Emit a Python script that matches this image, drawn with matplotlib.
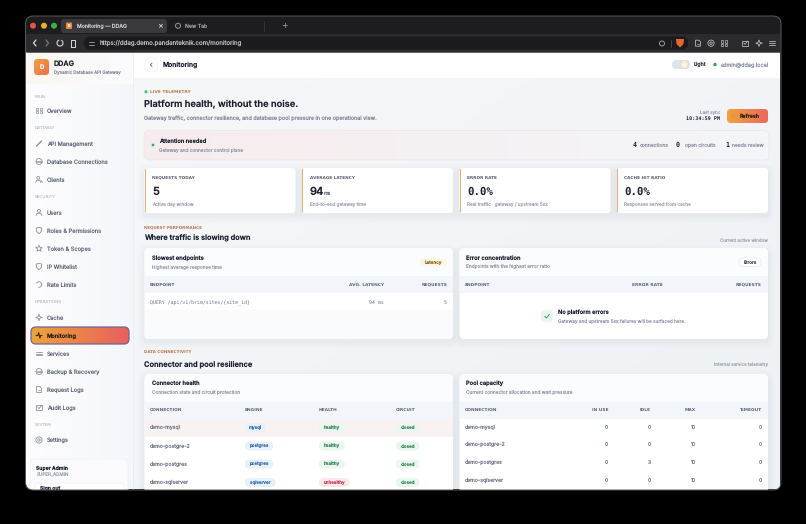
import numpy as np
import matplotlib
matplotlib.use("Agg")
import matplotlib.pyplot as plt
from matplotlib.patches import FancyBboxPatch, Circle, Rectangle, Polygon
from matplotlib.colors import LinearSegmentedColormap

plt.rcParams["text.hinting"] = "no_hinting"
plt.rcParams["text.hinting_factor"] = 8

# ---------- content ----------
tab_titles = ["Monitoring — DDAG", "New Tab"]
page_url = "https://ddag.demo.pandanteknik.com/monitoring"
nav_sections = ["MAIN", "GATEWAY", "SECURITY", "OPERATIONS", "SYSTEM"]
nav_items = [["Overview"],
             ["API Management", "Database Connections", "Clients"],
             ["Users", "Roles & Permissions", "Token & Scopes", "IP Whitelist", "Rate Limits"],
             ["Cache", "Monitoring", "Services", "Backup & Recovery", "Request Logs", "Audit Logs"],
             ["Settings"]]
kpi_labels = ["REQUESTS TODAY", "AVERAGE LATENCY", "ERROR RATE", "CACHE HIT RATIO"]
kpi_values = ["5", "94", "0.0%", "0.0%"]
kpi_captions = ["Active day window", "End-to-end gateway time",
                "Real traffic · gateway / upstream 5xx", "Responses served from cache"]
attention_counts = ["4", "0", "1"]
attention_names = ["connections", "open circuits", "needs review"]
slow_row = ["QUERY /api/v1/brim/sites/{site_id}", "94 ms", "5"]
connections = ["demo-mysql", "demo-postgre-2", "demo-postgres", "demo-sqlserver"]
engines = ["mysql", "postgres", "postgres", "sqlserver"]
health = ["healthy", "healthy", "healthy", "unhealthy"]
circuit = ["closed", "closed", "closed", "closed"]
pool_in_use = [0, 0, 0, 0]
pool_idle = [0, 0, 3, 0]
pool_max = [10, 10, 10, 10]
pool_timeout = [0, 0, 0, 0]

SANS = "Inter"
MONO = "DejaVu Sans Mono"
CAPS = "DejaVu Sans"
INK = "#1f2533"
MUTED = "#8a92a0"
BODY = "#5d6675"
ACCENT = "#b9794a"

fig = plt.figure(figsize=(8.06, 5.24), dpi=100, facecolor="#000000")
ax = fig.add_axes([0, 0, 1, 1])
ax.set_xlim(0, 806)
ax.set_ylim(524, 0)
ax.axis("off")
own_clip = []
z = [1]


def nz():
    z[0] += 1
    return z[0]


def rbox(x0, y0, x1, y1, r=3, fc="white", ec="none", lw=0, alpha=None):
    p = FancyBboxPatch((x0 + r, y0 + r), x1 - x0 - 2 * r, y1 - y0 - 2 * r,
                       boxstyle=f"round,pad={r},rounding_size={r}",
                       fc=fc, ec=ec, lw=lw, alpha=alpha, zorder=nz())
    ax.add_patch(p)
    return p


def rect(x0, y0, x1, y1, fc):
    p = Rectangle((x0, y0), x1 - x0, y1 - y0, fc=fc, ec="none", zorder=nz())
    ax.add_patch(p)
    return p


def grad(x0, y0, x1, y1, c0, c1, r=0, diag=False):
    cm = LinearSegmentedColormap.from_list("g", [c0, c1])
    n = 64
    xx = np.linspace(0, 1, n)
    yy = np.linspace(0, 1, n)
    X, Y = np.meshgrid(xx, yy)
    data = (X + Y) / 2 if diag else X
    im = ax.imshow(data, cmap=cm, extent=(x0, x1, y1, y0), aspect="auto",
                   interpolation="bilinear", zorder=nz())
    if r:
        p = FancyBboxPatch((x0 + r, y0 + r), x1 - x0 - 2 * r, y1 - y0 - 2 * r,
                           boxstyle=f"round,pad={r},rounding_size={r}",
                           fc="none", ec="none", transform=ax.transData)
        ax.add_patch(p)
        im.set_clip_path(p)
        own_clip.append(im)
    ax.set_xlim(0, 806)
    ax.set_ylim(524, 0)
    return im


def shadow(x0, y0, x1, y1, r=5):
    for d, a in ((7, .008), (5, .01), (3, .012), (1.5, .014)):
        rbox(x0 - d, y0 - d + 3, x1 + d, y1 + d + 3, r + d, fc="#3a4a66", alpha=a)


def T(x, y, s, px=6, weight="normal", color=BODY, ha="left", family=SANS, alpha=None):
    if weight == "bold" and family == SANS:
        weight = 600
    return ax.text(x, y + 0.34 * px, s, fontsize=px * 0.72, fontweight=weight, color=color,
                   ha=ha, va="baseline", family=family, zorder=nz(), alpha=alpha)


def L(xs, ys, color="#6d7482", lw=0.6):
    ax.plot(xs, ys, color=color, lw=lw, zorder=nz(), solid_capstyle="round")


def ring(x, y, r, color="#6d7482", lw=0.6, fc="none"):
    ax.add_patch(Circle((x, y), r, fc=fc, ec=color, lw=lw, zorder=nz()))


def icon(kind, x, y, c="#747b89"):
    if kind == "grid":
        for dx in (-1.7, 1.7):
            for dy in (-1.7, 1.7):
                ax.add_patch(Rectangle((x + dx - 1.2, y + dy - 1.2), 2.4, 2.4, fc="none",
                                       ec=c, lw=.5, zorder=nz()))
    elif kind == "link":
        L([x - 2.5, x + 2.5], [y + 2.5, y - 2.5], c, 1.0)
    elif kind == "db":
        ring(x, y, 3, c)
        L([x - 3, x + 3], [y - .8, y - .8], c, .5)
        L([x - 3, x + 3], [y + .8, y + .8], c, .5)
    elif kind == "people":
        ring(x - .8, y - 1.6, 1.4, c)
        L([x - 3.2, x - 2.4, x + .8, x + 1.6], [y + 3, y + .8, y + .8, y + 3], c)
        L([x + 2, x + 3.4], [y + .8, y + 3], c)
    elif kind == "user":
        ring(x, y - 1.6, 1.5, c)
        L([x - 3, x - 1.8, x + 1.8, x + 3], [y + 3, y + .8, y + .8, y + 3], c)
    elif kind == "shield":
        ax.add_patch(Polygon([(x - 2.8, y - 2.4), (x, y - 3.2), (x + 2.8, y - 2.4),
                              (x + 2.4, y + 1), (x, y + 3.2), (x - 2.4, y + 1)],
                             fc="none", ec=c, lw=.6, zorder=nz()))
    elif kind == "star":
        a = np.deg2rad(np.arange(-90, 270, 36))
        rr = np.where(np.arange(10) % 2 == 0, 3.4, 1.5)
        ax.add_patch(Polygon(np.c_[x + rr * np.cos(a), y + rr * np.sin(a)], fc="none", ec=c,
                             lw=.6, zorder=nz()))
    elif kind == "gauge":
        t = np.deg2rad(np.linspace(-150, 100, 24))
        L(x + 2.8 * np.cos(t), y + 2.8 * np.sin(t), c)
    elif kind == "bolt":
        a = np.deg2rad(np.arange(-90, 270, 45))
        rr = np.where(np.arange(8) % 2 == 0, 3.3, 1.2)
        ax.add_patch(Polygon(np.c_[x + rr * np.cos(a), y + rr * np.sin(a)], fc="none", ec=c,
                             lw=.6, zorder=nz()))
    elif kind == "pulse":
        L([x - 3, x - 1.2, x - .3, x + .9, x + 1.6, x + 3],
          [y, y, y - 2.8, y + 2.6, y, y], c, .8)
    elif kind == "lines":
        for dy in (-1.8, 0, 1.8):
            L([x - 2.8, x + 2.8], [y + dy, y + dy], c, .6)
    elif kind == "doc":
        ax.add_patch(Polygon([(x - 2.4, y - 3), (x + 1, y - 3), (x + 2.4, y - 1.4),
                              (x + 2.4, y + 3), (x - 2.4, y + 3)], fc="none", ec=c, lw=.6,
                             zorder=nz()))
        L([x - 1, x + 1], [y + .8, y + .8], c, .5)
    elif kind == "check":
        ax.add_patch(Rectangle((x - 2.8, y - 2.6), 5.4, 5.4, fc="none", ec=c, lw=.6, zorder=nz()))
        L([x - 1.2, x, x + 2.8], [y, y + 1.1, y - 2.2], c, .6)
    elif kind == "gear":
        ring(x, y, 3.1, c)
        ring(x, y, 1.2, c)


# ---------- browser chrome ----------
window = rbox(25.5, 16, 781, 490, 8, fc="#1d1d20")
rect(26, 34, 780, 52, "#2b2b2e")
for x, c in zip((33, 44, 54), ("#e5534b", "#e9b32a", "#35b34a")):
    ax.add_patch(Circle((x, 25.7), 3, fc=c, ec="none", zorder=nz()))
rbox(61, 19, 167, 33, 3, fc="#3a3a3e")
rbox(66, 22.5, 72, 29, 1, fc="#e88a35")
T(69, 25.8, "D", 3.5, "bold", "white", "center")
T(77, 25.8, tab_titles[0], 5.25, "normal", "#c9c9cc")
T(160, 25.8, "×", 7, "bold", "#d6d6d8", "center", "DejaVu Sans")
ring(178, 25.8, 2.5, "#8c8c90", .8)
T(185, 25.8, tab_titles[1], 5.25, "normal", "#97979b")
L([264, 264], [21, 31], "#3d3d41", .5)
T(285, 25.6, "+", 8, "normal", "#a8a8ac", "center", "DejaVu Sans")
L([36, 33.5, 36], [40, 43, 46], "#d8d8da", .9)
L([46, 48.5, 46], [40, 43, 46], "#77777b", .9)
t = np.deg2rad(np.linspace(-60, 250, 30))
L(60 + 3 * np.cos(t), 43 + 3 * np.sin(t), "#d8d8da", .8)
L([71, 71, 73, 75, 75, 71], [46.5, 40, 40, 40, 46.5, 46.5], "#d8d8da", .7)
rbox(84, 36.5, 688, 49.5, 6, fc="#1b1b1e")
L([88.5, 93.5], [42, 42], "#a5a5a9", .6)
L([88.5, 93.5], [44.5, 44.5], "#a5a5a9", .6)
T(100, 43, page_url, 6.15, "normal", "#b9b9bd")
ring(662, 43.5, 2.5, "#9c9ca0", .7)
L([670.5, 670.5], [39.5, 46.5], "#57575b", .5)
ax.add_patch(Polygon([(676, 39), (684, 39), (683.5, 44), (680, 47.5), (676.5, 44)], fc="#e8662f",
                     ec="none", zorder=nz()))
for x, k in zip((698, 711, 724, 745, 759, 772), ("doc", "gear", "grid", "check", "bolt", "lines")):
    icon(k, x, 43.2, "#b9b9bd")

# ---------- page background ----------
grad(133, 52, 780, 489, "#f6f7f9", "#eef1f5", diag=True)
grad(26, 52, 133, 489, "#fdfdfe", "#f5f6fb")
grad(26, 52, 133, 84, "#fbf7f2", "#fafbfd")
rect(133, 52, 780, 78, "#ffffff")
L([133, 133], [52, 489], "#e8ebf0", .5)

# ---------- sidebar ----------
grad(34, 59, 49, 75, "#f0a23e", "#ec6f50", r=3.5, diag=True)
T(41.5, 67, "D", 6, "bold", "white", "center")
T(54, 63.8, "DDAG", 7.2, "bold", INK)
T(54, 72.8, "Dynamic Database API Gateway", 4.4, "normal", "#8b93a1")

section_y = [96.5, 129, 198, 303, 426]
item_y = [[110.5], [143.5, 161.5, 179.5], [212.5, 230.5, 248.5, 266.5, 284.5],
          [317.5, 335.5, 353.5, 371.5, 389.5, 407.5], [440]]
icons = [["grid"], ["link", "db", "people"], ["user", "shield", "star", "shield", "gauge"],
         ["bolt", "pulse", "lines", "db", "doc", "check"], ["gear"]]
grad(31, 327, 129, 344, "#eda43a", "#e85f5c", r=5)
rbox(31, 327, 129, 344, 5, fc="none", ec="#6f6596", lw=.9)
for sec, sy, its, iys, ics in zip(nav_sections, section_y, nav_items, item_y, icons):
    T(35, sy, sec, 4.2, "normal", "#a3a9b5", family=CAPS)
    for it, iy, ic in zip(its, iys, ics):
        active = it == "Monitoring"
        icon(ic, 39, iy, "#3a2a14" if active else "#8a909c")
        T(47, iy, it, 5.7, "bold" if active else "normal", "#2c2114" if active else "#646b79")

rbox(30, 459, 128, 500, 4, fc="#fbfbfd", ec="#eef0f4", lw=.5)
T(36.5, 468, "Super Admin", 5.1, "bold", INK)
T(36.5, 475.5, "SUPER_ADMIN", 4.6, "normal", "#9aa1ad")
rbox(35, 483, 124, 500, 4, fc="#ffffff", ec="#eef0f4", lw=.5)
T(40.5, 487.8, "Sign out", 5.1, "bold", INK)

# ---------- header ----------
rbox(145, 58, 157.5, 71.5, 3, fc="#ffffff", ec="#eef0f4", lw=.5)
L([152, 150.3, 152], [63.2, 64.8, 66.4], "#69707e", .7)
T(163, 64.6, "Monitoring", 6.7, "bold", INK)
rbox(672, 60, 690, 69, 4.5, fc="#dfe2e8")
ax.add_patch(Circle((684.5, 64.5), 3.6, fc="#fdf3e0", ec="#f6d9a8", lw=.4, zorder=nz()))
T(693.5, 64.6, "Light", 5.2, "bold", "#3e4554")
ax.add_patch(Circle((715, 64.5), 1.7, fc="#2f9e62", ec="none", zorder=nz()))
T(721, 64.6, "admin@ddag.local", 5.5, "normal", "#8c94a2")

# ---------- hero ----------
ax.add_patch(Circle((146, 91.8), 1.6, fc="#4fc08d", ec="none", zorder=nz()))
T(150, 91.8, "LIVE TELEMETRY", 4.4, "bold", ACCENT, family=CAPS)
T(144, 104.6, "Platform health, without the noise.", 9.3, "bold", INK)
T(144, 118.5, "Gateway traffic, connector resilience, and database pool pressure in one operational view.",
  5.45, "normal", "#868e9c")
T(720, 113, "Last sync", 4.5, "normal", "#9aa1ad", "right")
T(720, 118.6, "10:34:59 PM", 5.1, "bold", INK, "right", MONO)
grad(727, 109, 768, 123, "#efa33c", "#ea6a5c", r=3.5)
ring(733, 116, 1.6, "#e28a4a", .5)
T(740, 116, "Refresh", 5.3, "bold", "#3b2410")

# ---------- attention banner ----------
grad(144, 130.5, 769, 160, "#f7eced", "#f4f6f9", r=5)
rbox(144, 130.5, 769, 160, 5, fc="none", ec="#ebe6e8", lw=.5)
ax.add_patch(Circle((153, 145), 1.8, fc="#37a46d", ec="#d9ecdf", lw=.7, zorder=nz()))
T(159, 141, "Attention needed", 5.65, "bold", INK)
T(159, 150, "Gateway and connector control plane", 4.75, "normal", "#949caa")
for x, v, xn, n in zip((635, 678, 727), attention_counts, (639.5, 685, 731.5), attention_names):
    T(x, 145, v, 6.6, "bold", INK, "center", MONO)
    T(xn, 145.5, n, 5.0, "normal", "#8e96a4")

# ---------- KPI cards ----------
kpi_x = [(144.5, 295.5), (302, 453), (459.5, 610.5), (617, 768)]
for (x0, x1), lab, val, cap, unit, mono in zip(
        kpi_x, kpi_labels, kpi_values, kpi_captions, ["", "ms", "", ""], [0, 0, 1, 1]):
    shadow(x0, 168, x1, 213, 3)
    rbox(x0, 168, x1, 213, 3.5, fc="#ffffff")
    rect(x0, 169, x0 + 1.2, 212, "#e9ae78")
    T(x0 + 7.5, 178, lab, 4.3, "bold", "#565e6d", family=CAPS)
    v = T(x0 + 7.5, 191.2, val, 11 if not mono else 10.8, "bold", INK, family=MONO if mono else SANS)
    if unit:
        T(x0 + 22, 193.3, unit, 5.2, "normal", "#6c7482")
    T(x0 + 7.5, 204, cap, 4.65, "normal", "#a0a7b2")

# ---------- performance section ----------
T(144, 228.2, "REQUEST PERFORMANCE", 4.15, "bold", ACCENT, family=CAPS)
T(144, 238.2, "Where traffic is slowing down", 7.4, "bold", INK)
T(768, 240, "Current active window", 4.5, "normal", "#a0a7b2", "right")
for x0, x1 in ((144.5, 453), (459.5, 768)):
    shadow(x0, 248, x1, 339, 5)
    rbox(x0, 248, x1, 339, 5, fc="#ffffff")
    rect(x0, 276, x1, 293, "#f2f5f9")

rbox(144.5, 248, 453, 276.5, 5, fc="#fbfcfe")
rect(144.5, 271, 453, 276, "#fbfcfe")
rect(144.5, 310, 453, 334, "#fafbfd")
rbox(144.5, 325, 453, 339, 5, fc="#fafbfd")
rbox(459.5, 248, 768, 276.5, 5, fc="#fbfcfe")
rect(459.5, 271, 768, 276, "#fbfcfe")
rect(144.5, 276, 453, 293, "#f2f5f9")
rect(459.5, 276, 768, 293, "#f2f5f9")

T(152, 258, "Slowest endpoints", 5.8, "bold", INK)
T(152, 267.2, "Highest average response time", 4.75, "normal", "#969eab")
rbox(420, 258, 447, 266.5, 4.2, fc="#fdf6e3")
T(433.5, 262.2, "Latency", 4.5, "bold", "#8c6d2c", "center")
for x, s, ha in ((150, "ENDPOINT", "left"), (384, "AVG. LATENCY", "right"), (447, "REQUESTS", "right")):
    T(x, 285, s, 4.35, "bold", "#5f6776", ha, CAPS)
T(150, 302, slow_row[0], 4.85, "normal", "#6b7382", family=MONO)
T(384, 302, slow_row[1], 4.85, "normal", "#6b7382", "right", MONO)
T(447, 302, slow_row[2], 4.85, "normal", "#6b7382", "right", MONO)

T(466.5, 258, "Error concentration", 5.8, "bold", INK)
T(466.5, 267.2, "Endpoints with the highest error ratio", 4.8, "normal", "#969eab")
rbox(739, 258, 761, 266.5, 4.2, fc="#ffffff", ec="#e6e9ee", lw=.5)
T(750, 262.2, "Errors", 4.5, "bold", "#454c5a", "center")
for x, s, ha in ((465, "ENDPOINT", "left"), (662.5, "ERROR RATE", "right"), (762, "REQUESTS", "right")):
    T(x, 285, s, 4.35, "bold", "#5f6776", ha, CAPS)
rbox(541, 310, 553, 322, 4, fc="#e7f5ec")
L([544.7, 546.4, 549.5], [316.4, 318, 314.2], "#3d9a66", .7)
T(558, 312, "No platform errors", 5.7, "bold", INK)
T(558, 321, "Gateway and upstream 5xx failures will be surfaced here.", 4.7, "normal", "#949caa")

# ---------- connectivity section ----------
T(144, 353, "DATA CONNECTIVITY", 4.15, "bold", ACCENT, family=CAPS)
T(144, 363.5, "Connector and pool resilience", 7.5, "bold", INK)
T(768, 365, "Internal service telemetry", 4.5, "normal", "#a0a7b2", "right")

row_y_c = [427.5, 446, 464, 482.5]
row_y_p = [427, 444.5, 462.5, 480]
for x0, x1 in ((144.5, 453), (459.5, 768)):
    shadow(x0, 374, x1, 510, 5)
    rbox(x0, 374, x1, 510, 5, fc="#ffffff")
    rbox(x0, 374, x1, 402, 5, fc="#fbfcfe")
    rect(x0, 398, x1, 402, "#fbfcfe")
    rect(x0, 401.5, x1, 418.5, "#f2f5f9")

# connector table
rect(144.5, 418.5, 453, 436.5, "#f8f2f3")
T(152, 383, "Connector health", 5.7, "bold", INK)
T(152, 392, "Connection state and circuit protection", 4.8, "normal", "#969eab")
for x, s in ((150, "CONNECTION"), (245, "ENGINE"), (319, "HEALTH"), (396, "CIRCUIT")):
    T(x, 410, s, 4.35, "bold", "#5f6776", family=CAPS)

def badge(x0, y, s, fc, tc):
    w = len(s) * 2.4 + 9
    rbox(x0, y - 4.4, x0 + w, y + 4.4, 4.3, fc=fc)
    T(x0 + w / 2, y, s, 4.5, "bold", tc, "center")

for y, c, e, h, ci in zip(row_y_c, connections, engines, health, circuit):
    T(150, y, c, 5.2, "normal", "#767e8c")
    badge(245, y, e, "#e6f1fb", "#3d6ea6")
    if h == "healthy":
        badge(319, y, h, "#e9f7ef", "#3f8b62")
    else:
        badge(319, y, h, "#fbe8ec", "#c2405c")
    badge(396, y, ci, "#e9f7ef", "#3f8b62")

# pool table
T(466.5, 383, "Pool capacity", 5.7, "bold", INK)
T(466.5, 392, "Current connector allocation and wait pressure", 4.8, "normal", "#969eab")
for x, s, ha in ((465, "CONNECTION", "left"), (608, "IN USE", "right"), (651, "IDLE", "right"),
                 (696, "MAX", "right"), (762, "TIMEOUT", "right")):
    T(x, 410, s, 4.35, "bold", "#5f6776", ha, CAPS)
for y, c, a, b, m, tt in zip(row_y_p, connections, pool_in_use, pool_idle, pool_max, pool_timeout):
    T(465, y, c, 5.2, "normal", "#767e8c")
    for x, v in ((608, a), (651, b), (696, m), (762, tt)):
        T(x, y, str(v), 5.0, "normal", "#767e8c", "right")

# ---------- clip to window, frame ----------
for art in ax.get_children():
    if art is window or art in own_clip or art is ax.patch:
        continue
    if hasattr(art, "set_clip_path") and art not in (ax.xaxis, ax.yaxis) and art not in ax.spines.values():
        art.set_clip_path(window)
        art.set_clip_on(True)
rbox(25.5, 16, 781, 490, 8, fc="none", ec="#5a5a5e", lw=.7)
L([26, 780], [51.8, 51.8], "#4a4a4e", .6)

fig.savefig("out.png", dpi=100, facecolor="#000000")
